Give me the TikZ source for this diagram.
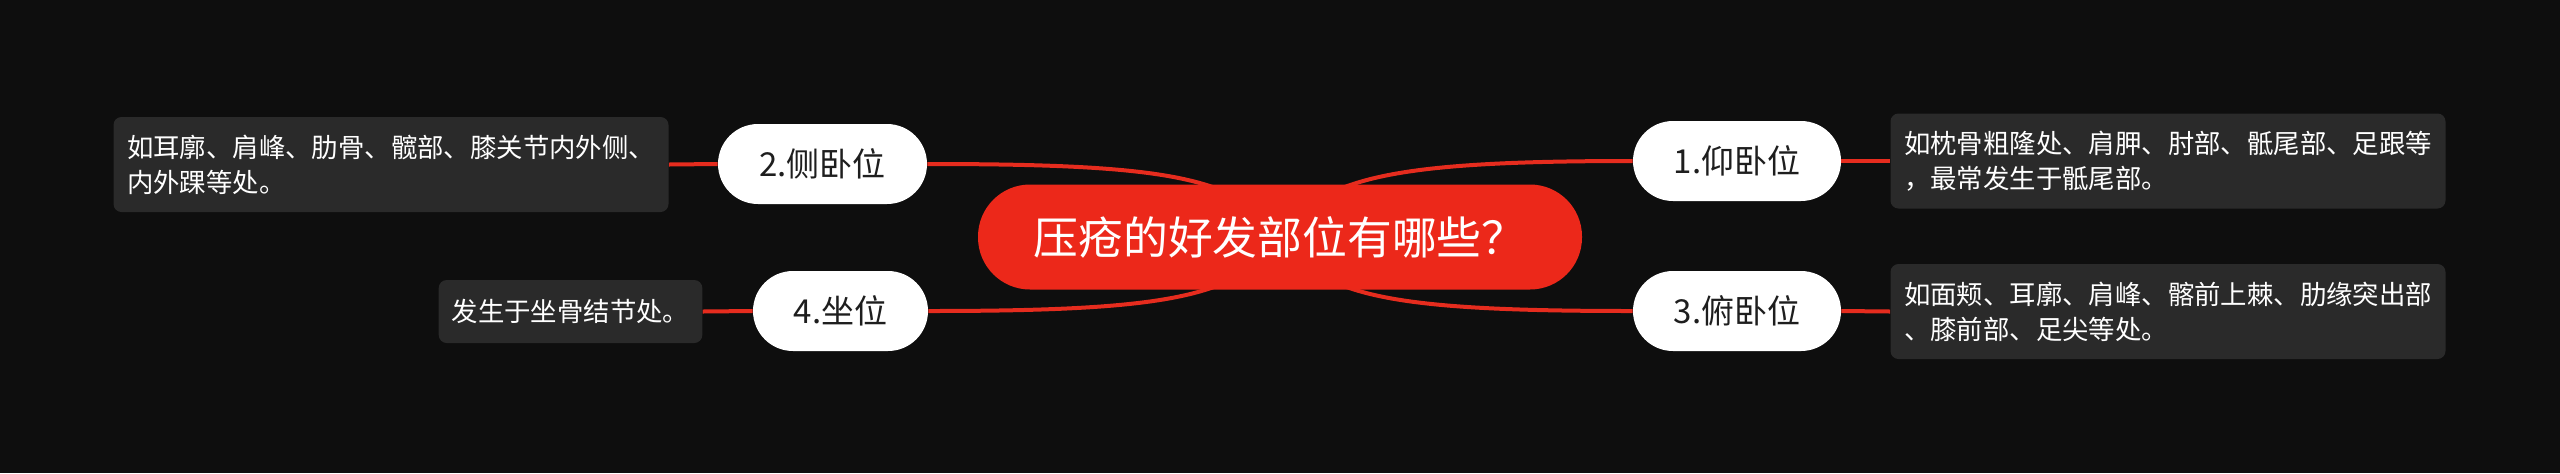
\documentclass[tikz,border=0pt]{standalone}
\usepackage{fontspec}
\setmainfont{Noto Sans CJK SC}
\definecolor{bgc}{RGB}{14,14,14}
\definecolor{redc}{RGB}{236,40,26}
\definecolor{linec}{RGB}{230,44,30}
\definecolor{leafc}{RGB}{42,42,42}
\definecolor{textdark}{RGB}{30,30,30}
\pgfdeclarelayer{bglayer}
\pgfdeclarelayer{linelayer}
\pgfsetlayers{bglayer,linelayer,main}
\begin{document}
\begin{tikzpicture}[x=0.5pt,y=-0.5pt,
 rootbox/.style={fill=redc, rounded corners=26pt, minimum width=302pt, minimum height=52.5pt, inner sep=0pt, text=white, font=\fontsize{22.4pt}{26pt}\selectfont},
 topicbox/.style={fill=white, rounded corners=20pt, minimum height=40pt, inner sep=0pt, text=textdark, font=\fontsize{16.5pt}{19pt}\selectfont},
 leafbox/.style={fill=leafc, rounded corners=4pt, inner xsep=6.5pt, inner ysep=0pt, align=left, text=white, font=\fontsize{13.2pt}{17.5pt}\selectfont},
 link/.style={draw=linec, line width=2pt}
]
\begin{pgfonlayer}{bglayer}
\fill[bgc] (0,0) rectangle (2560,473);
\end{pgfonlayer}
\useasboundingbox (0,0) rectangle (2560,473);

\node[rootbox] (root) at (1280,237) {压疮的好发部位有哪些？};

\node[topicbox, minimum width=104pt] (t1) at (1737,161) {1.仰卧位};
\node[topicbox, minimum width=104pt] (t3) at (1737,311) {3.俯卧位};
\node[topicbox, minimum width=104.5pt] (t2) at (822.5,164) {2.侧卧位};
\node[topicbox, minimum width=87.5pt] (t4) at (840.5,311) {4.坐位};

\node[leafbox, minimum width=277.5pt, minimum height=47.5pt] (l1) at (2168,161) {如枕骨粗隆处、肩胛、肘部、骶尾部、足跟等\\，最常发生于骶尾部。};
\node[leafbox, minimum width=277.5pt, minimum height=47.5pt] (l3) at (2168,311.5) {如面颊、耳廓、肩峰、髂前上棘、肋缘突出部\\、膝前部、足尖等处。};
\node[leafbox, minimum width=277.5pt, minimum height=47.5pt] (l2) at (391,164.5) {如耳廓、肩峰、肋骨、髋部、膝关节内外侧、\\内外踝等处。};
\node[leafbox, minimum width=131.5pt, minimum height=31.5pt] (l4) at (570.5,311.5) {发生于坐骨结节处。};

\begin{pgfonlayer}{linelayer}
\draw[link] (root.center) .. controls +(40,-60) and +(-240,0) .. (t1.west);
\draw[link] (root.center) .. controls +(40,60) and +(-240,0) .. (t3.west);
\draw[link] (root.center) .. controls +(-40,-60) and +(240,0) .. (t2.east);
\draw[link] (root.center) .. controls +(-40,60) and +(240,0) .. (t4.east);
\draw[link] (t1.east) -- (l1.west);
\draw[link] (t3.east) -- (l3.west);
\draw[link] (t2.west) -- (l2.east);
\draw[link] (t4.west) -- (l4.east);
\end{pgfonlayer}
\end{tikzpicture}
\end{document}
